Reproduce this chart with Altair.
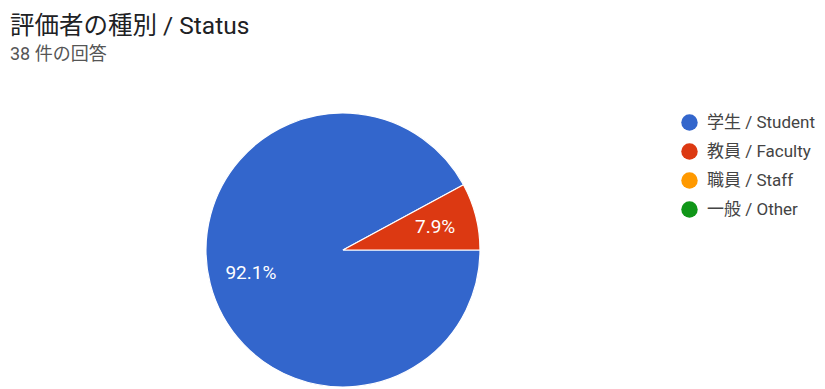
import math
import altair as alt
import pandas as pd

categories = ["学生 / Student", "教員 / Faculty", "職員 / Staff", "一般 / Other"]
counts = [35, 3, 0, 0]
pct_labels = ["92.1%", "7.9%", "", ""]
colors = ["#3366cc", "#dc3912", "#ff9900", "#109618"]

df = pd.DataFrame({
    "category": categories,
    "count": counts,
    "label": pct_labels,
    "order": list(range(len(categories))),
})

FONT = "Roboto, 'Noto Sans CJK JP', sans-serif"
PAD_TOP = 75
CX, CY = 335, 167

theta = alt.Theta(
    "count:Q", stack=True,
    scale=alt.Scale(range=[math.pi / 2, math.pi / 2 + 2 * math.pi]),
)

color = alt.Color(
    "category:N",
    sort=categories,
    scale=alt.Scale(domain=categories, range=colors),
    legend=alt.Legend(
        title=None,
        orient="none",
        legendX=673,
        legendY=31,
        symbolType="circle",
        symbolSize=270,
        symbolStrokeWidth=0,
        symbolOpacity=1,
        labelFont=FONT,
        labelFontSize=17,
        labelColor="#444444",
        labelOffset=9,
        rowPadding=11,
        padding=0,
        labelLimit=300,
    ),
)

base = alt.Chart(df).transform_filter("datum.count > 0").encode(
    theta=theta,
    order=alt.Order("order:Q", sort="ascending"),
)

arcs = base.mark_arc(radius=137, stroke="white", strokeWidth=1.2).encode(
    color=color,
    x=alt.value(CX),
    y=alt.value(CY),
)

texts = base.mark_text(
    radius=95, font=FONT, fontSize=19, color="white"
).encode(
    text="label:N",
    x=alt.value(CX),
    y=alt.value(CY),
)

chart = alt.layer(arcs, texts).properties(
    width=809,
    height=381 - PAD_TOP,
    padding={"left": 0, "top": PAD_TOP, "right": 0, "bottom": 0},
    autosize=alt.AutoSizeParams(type="none"),
    title=alt.TitleParams(
        text="評価者の種別 / Status",
        subtitle="38 件の回答",
        anchor="start",
        orient="top",
        font=FONT,
        fontSize=24.5,
        fontWeight="normal",
        color="#202124",
        subtitleFont=FONT,
        subtitleFontSize=18,
        subtitleColor="#555555",
        subtitlePadding=7,
        offset=18,
        dx=2,
    ),
).configure_view(stroke=None)

chart.save("out.html", embed_options={"renderer": "svg", "actions": False})
